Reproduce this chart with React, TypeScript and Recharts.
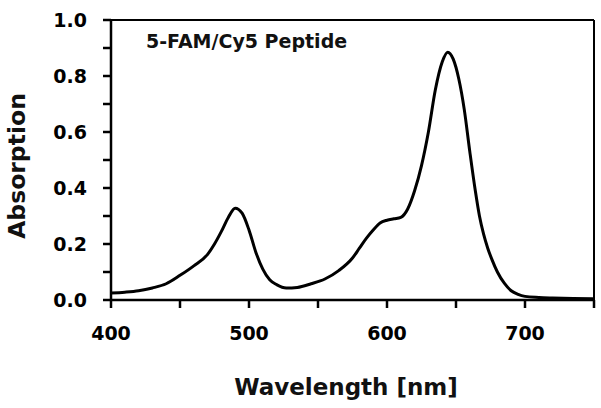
import { LineChart, Line, XAxis, YAxis, ReferenceLine } from "recharts";

const wavelengths = [
  400, 410, 420, 430, 440, 450, 460, 470, 475, 480, 485, 490, 495, 500, 505, 510, 515, 520, 527, 535,
  545, 555, 565, 575, 580, 585, 590, 595, 600, 605, 610, 615, 620, 625, 630, 635, 640, 644, 648, 652,
  656, 660, 664, 667, 670, 673, 676, 680, 685, 690, 695, 700, 710, 720, 735, 750,
];
const absorption = [
  0.025, 0.028, 0.033, 0.043, 0.058, 0.088, 0.122, 0.163, 0.2, 0.245, 0.295, 0.328, 0.31, 0.25, 0.17,
  0.11, 0.072, 0.055, 0.043, 0.045, 0.058, 0.075, 0.105, 0.15, 0.185, 0.22, 0.25, 0.275, 0.285, 0.29,
  0.295, 0.325, 0.39, 0.48, 0.6, 0.75, 0.85, 0.885, 0.86, 0.79, 0.68, 0.53, 0.39, 0.3, 0.235, 0.185,
  0.145, 0.1, 0.06, 0.033, 0.02, 0.013, 0.009, 0.007, 0.005, 0.004,
];
const xTicks = [400, 450, 500, 550, 600, 650, 700, 750];
const yTicks = [0, 0.1, 0.2, 0.3, 0.4, 0.5, 0.6, 0.7, 0.8, 0.9, 1.0];
const title = "5-FAM/Cy5 Peptide";

const data = wavelengths.map((nm, i) => ({ nm, abs: absorption[i] }));

const font = "'DejaVu Sans', sans-serif";
const X_TICK = 8;
const X_GAP = 19;
const Y_TICK = 8;
const Y_GAP = 16;

// tick mark + label drawn together
function XTick(props: any) {
  const { x, y, payload } = props;
  const v = payload.value as number;
  const top = y - X_GAP - X_TICK;
  return (
    <g>
      <line x1={x} x2={x} y1={top} y2={top + X_TICK} stroke="#000" strokeWidth={2.5} />
      {v % 100 === 0 && v !== 750 && (
        <text x={x} y={y} dy="0.71em" textAnchor="middle" fontSize={19} fontWeight="bold" fontFamily={font} fill="#000">
          {v}
        </text>
      )}
    </g>
  );
}

function YTick(props: any) {
  const { x, y, payload } = props;
  const v = payload.value as number;
  const left = x + Y_GAP;
  return (
    <g>
      <line x1={left} x2={left + Y_TICK} y1={y} y2={y} stroke="#000" strokeWidth={2.5} />
      {Math.round(v * 10) % 2 === 0 && (
        <text x={x} y={y} dy="0.355em" textAnchor="end" fontSize={19} fontWeight="bold" fontFamily={font} fill="#000">
          {v.toFixed(1)}
        </text>
      )}
    </g>
  );
}

export default function App() {
  return (
    <div style={{ position: "fixed", left: 0, top: 0, background: "#fff" }}>
      <LineChart width={601} height={408} data={data} margin={{ top: 20, right: 7, left: 0, bottom: 0 }}>
        <XAxis
          dataKey="nm"
          type="number"
          domain={[400, 750]}
          ticks={xTicks}
          interval={0}
          height={108}
          tickSize={X_TICK}
          tickMargin={X_GAP}
          axisLine={{ stroke: "#000", strokeWidth: 2.5 }}
          tick={<XTick />}
          label={{
            content: () => (
              <text x={346} y={395} textAnchor="middle" fontSize={23} fontWeight="bold" fontFamily={font} fill="#111">
                Wavelength [nm]
              </text>
            ),
          }}
        />
        <YAxis
          type="number"
          domain={[0, 1]}
          ticks={yTicks}
          interval={0}
          width={111}
          tickSize={Y_TICK}
          tickMargin={Y_GAP}
          axisLine={{ stroke: "#000", strokeWidth: 2.5 }}
          tick={<YTick />}
          label={{
            content: () => (
              <text
                x={25}
                y={166}
                transform="rotate(-90 25 166)"
                textAnchor="middle"
                fontSize={23.5}
                fontWeight="bold"
                fontFamily={font}
                fill="#111"
              >
                Absorption
              </text>
            ),
          }}
        />
        <ReferenceLine y={1} stroke="#000" strokeWidth={2} />
        <ReferenceLine x={750} stroke="#000" strokeWidth={2} />
        <Line type="monotone" dataKey="abs" stroke="#000" strokeWidth={3} dot={false} isAnimationActive={false} />
        <text x={146} y={48} fontSize={19} fontWeight="bold" fontFamily={font} fill="#111">
          {title}
        </text>
      </LineChart>
    </div>
  );
}
